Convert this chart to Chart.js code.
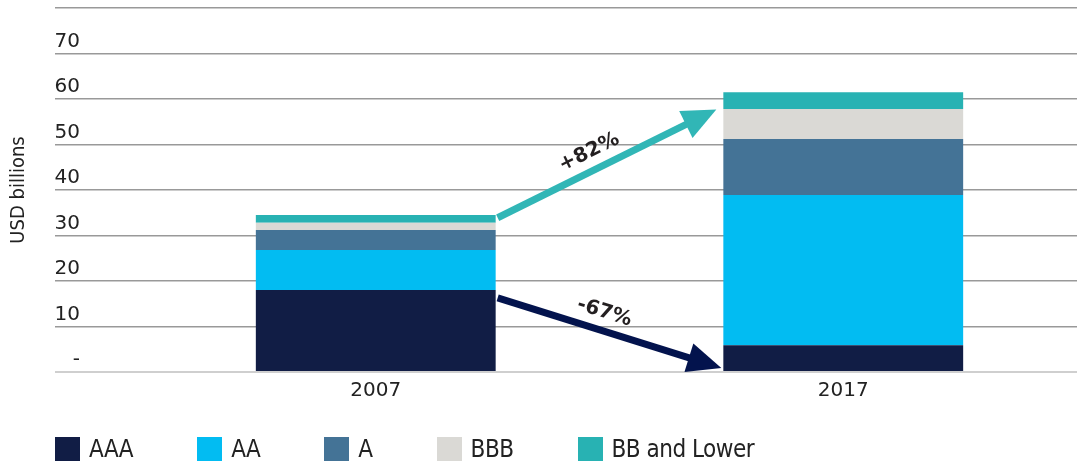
<!DOCTYPE html>
<html>
<head>
<meta charset="utf-8">
<script src="https://cdn.jsdelivr.net/npm/chart.js@4/dist/chart.umd.min.js"></script>
<style>
  html, body { margin: 0; padding: 0; background: #fff; }
  #wrap { position: relative; width: 1077px; height: 463px; }
  #legend {
    position: absolute; left: 55px; top: 435px;
    display: flex; align-items: center;
    font-family: "Liberation Sans Narrow", "DejaVu Sans Condensed", sans-serif;
    font-size: 24px; color: #222; letter-spacing: -0.5px;
  }
  #legend .item { display: flex; align-items: center; margin-right: 64px; }
  #legend .box { width: 25px; height: 24px; margin-right: 9px; }
</style>
</head>
<body>
<div id="wrap">
  <canvas id="chart" width="1077" height="463"></canvas>
  <div id="legend"></div>
</div>
<script>
'use strict';

// categories
const years = ['2007', '2017'];

// series values, USD billions
const aaa = [18.0, 5.9];
const aa = [8.8, 33.0];
const singleA = [4.4, 12.3];
const bbb = [1.6, 6.6];
const bbLower = [1.7, 3.7];

const seriesNames = ['AAA', 'AA', 'A', 'BBB', 'BB and Lower'];
const seriesColors = ['#111d45', '#02bcf2', '#447396', '#dad9d5', '#28b2b3'];

// change arrows: value at 2007 end, value at 2017 end
const arrowLabels = ['+82%', '-67%'];
const arrowFrom = [33.9, 16.3];
const arrowTo = [57.7, 0.9];
const arrowColors = ['#31b6b6', '#03134d'];

const tickFont = { family: '"DejaVu Sans", sans-serif', size: 20 };

//Draws the two change arrows between the bars
const arrowPlugin = {
  id: 'arrows',
  afterDatasetsDraw(chart) {
    const ctx = chart.ctx;
    const y = chart.scales.y;
    const bars = chart.getDatasetMeta(0).data;
    const gaps = [7, 2];

    arrowLabels.forEach((label, i) => {
      const x1 = bars[0].x + bars[0].width / 2 + 2;
      const x2 = bars[1].x - bars[1].width / 2 - gaps[i];
      const y1 = y.getPixelForValue(arrowFrom[i]);
      const y2 = y.getPixelForValue(arrowTo[i]);
      const len = Math.hypot(x2 - x1, y2 - y1);
      const dx = (x2 - x1) / len, dy = (y2 - y1) / len;
      const head = 34, half = 15;

      ctx.save();
      ctx.strokeStyle = arrowColors[i];
      ctx.fillStyle = arrowColors[i];
      ctx.lineWidth = 7;
      ctx.beginPath();
      ctx.moveTo(x1, y1);
      ctx.lineTo(x2 - dx * (head - 2), y2 - dy * (head - 2));
      ctx.stroke();
      ctx.beginPath();
      ctx.moveTo(x2, y2);
      ctx.lineTo(x2 - dx * head + dy * half, y2 - dy * head - dx * half);
      ctx.lineTo(x2 - dx * head - dy * half, y2 - dy * head + dx * half);
      ctx.closePath();
      ctx.fill();

      //label sits above the shaft, a little before the middle
      const mx = (x1 + x2) / 2 - dx * 11 + dy * 18;
      const my = (y1 + y2) / 2 - dy * 11 - dx * 18;
      ctx.translate(mx, my);
      ctx.rotate(Math.atan2(dy, dx));
      ctx.fillStyle = '#231f20';
      ctx.font = 'bold 20px "DejaVu Sans", sans-serif';
      ctx.textAlign = 'center';
      ctx.textBaseline = 'middle';
      ctx.fillText(label, 0, 0);
      ctx.restore();
    });
  }
};

const values = [aaa, aa, singleA, bbb, bbLower];
const datasets = values.map((data, i) => ({
  label: seriesNames[i],
  data: data,
  backgroundColor: seriesColors[i],
  borderWidth: 0,
  barPercentage: 0.513,
  categoryPercentage: 1
}));

const chart = new Chart(document.getElementById('chart'), {
  type: 'bar',
  data: { labels: years, datasets: datasets },
  options: {
    responsive: false,
    animation: false,
    layout: { padding: { top: 8, right: 0, left: 0, bottom: 0 } },
    plugins: {
      legend: { display: false },
      tooltip: { enabled: false }
    },
    scales: {
      x: {
        stacked: true,
        grid: { display: false, drawTicks: false },
        border: { display: false },
        ticks: { font: tickFont, color: '#222', padding: 7 },
        afterFit: s => { s.height = 91; }
      },
      y: {
        stacked: true,
        min: 0,
        max: 80,
        border: { display: false },
        grid: {
          color: c => c.tick && c.tick.value === 0 ? '#cfcfcf' : '#999',
          lineWidth: c => c.tick && c.tick.value === 0 ? 2 : 1.5,
          drawTicks: true,
          tickLength: 87
        },
        ticks: {
          stepSize: 10,
          font: tickFont,
          color: '#222',
          padding: -25,
          labelOffset: -12,
          callback: v => v === 0 ? '-' : (v === 80 ? '' : v)
        },
        title: {
          display: true,
          text: 'USD billions',
          color: '#222',
          font: { family: '"Liberation Sans Narrow", "DejaVu Sans Condensed", sans-serif', size: 20 },
          padding: { top: 7, bottom: 0 }
        },
        afterFit: s => {
          s.width = 142;
          s.paddingTop = 0;
          s.paddingBottom = 0;
        }
      }
    }
  },
  plugins: [arrowPlugin]
});

//Build the legend from the datasets
const legend = document.getElementById('legend');
chart.data.datasets.forEach(ds => {
  const item = document.createElement('div');
  item.className = 'item';
  item.innerHTML = `<span class="box" style="background:${ds.backgroundColor}"></span><span>${ds.label}</span>`;
  legend.appendChild(item);
});
</script>
</body>
</html>
